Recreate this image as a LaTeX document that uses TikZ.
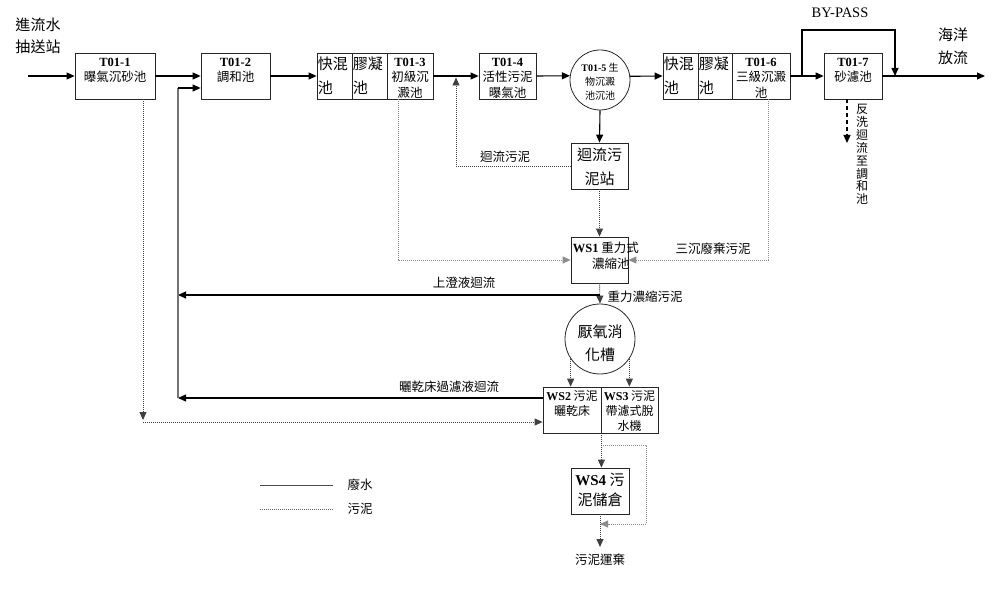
\documentclass[tikz,border=0pt]{standalone}
\usepackage{fontspec}
\setmainfont{Noto Sans CJK TC}
\newfontfamily\tm{Liberation Serif}
\usetikzlibrary{arrows.meta}
\newcommand\tb[1]{{\tm\bfseries #1}}
\begin{document}
\begin{tikzpicture}[x=1pt,y=-1pt,
  box/.style={draw=black!85, line width=0.8pt, inner sep=0pt, minimum height=46pt},
  circ/.style={draw=black!85, circle, line width=0.8pt, inner sep=0pt},
  bt/.style={anchor=north, align=center, inner sep=0pt, font=\fontsize{12.5}{15.5}\selectfont},
  bigt/.style={anchor=north west, align=left, inner sep=0pt, font=\fontsize{15}{24}\selectfont},
  lab/.style={inner sep=0pt, font=\fontsize{12.5}{15}\selectfont},
  tip/.style={-{Triangle[length=8pt,width=7pt]}},
  wl/.style={line width=1.1pt, draw=black, tip},
  gl/.style={line width=1.1pt, draw=black!55},
  sl/.style={line width=0.9pt, draw=black!75, dash pattern=on 1pt off 1pt, tip},
  sll/.style={line width=0.9pt, draw=black!45, dash pattern=on 1pt off 1pt, tip},
  dl/.style={line width=1.2pt, draw=black, dash pattern=on 4pt off 3pt, tip}]
\useasboundingbox (0,0) rectangle (1000,593);

% ---------- main train ----------
\node[lab, align=center, font=\fontsize{15}{22}\selectfont] (inl) at (38,36) {進流水\\抽送站};
\coordinate (in0) at (28,76);

\node[box, minimum width=80pt] (t1) at (115,76) {};
\node[bt, yshift=-5pt] (t1t) at (t1.north) {\tb{T01-1}\\曝氣沉砂池};

\node[box, minimum width=69pt] (t2) at (235.5,76) {};
\node[bt, yshift=-5pt] (t2t) at (t2.north) {\tb{T01-2}\\調和池};

\node[box, minimum width=35pt] (t3a) at (334.5,76) {};
\node[box, minimum width=35pt] (t3b) at (369.5,76) {};
\node[box, minimum width=46pt] (t3c) at (410,76) {};
\node[bigt, xshift=1pt, yshift=-4pt] (t3at) at (t3a.north west) {快混\\池};
\node[bigt, xshift=1pt, yshift=-4pt] (t3bt) at (t3b.north west) {膠凝\\池};
\node[bt, yshift=-5pt] (t3ct) at (t3c.north) {\tb{T01-3}\\初級沉\\澱池};

\node[box, minimum width=57pt] (t4) at (507.5,76) {};
\node[bt, yshift=-5pt] (t4t) at (t4.north) {\tb{T01-4}\\活性污泥\\曝氣池};

\node[circ, minimum size=60pt] (t5) at (600,80) {};
\node[align=center, inner sep=0pt, font=\fontsize{10}{14}\selectfont] (t5t) at (600,82) {\tb{T01-5} 生\\物沉澱\\池沉池};

\node[box, minimum width=35pt] (t6a) at (680.5,76) {};
\node[box, minimum width=34pt] (t6b) at (715,76) {};
\node[box, minimum width=58pt] (t6c) at (761,76) {};
\node[bigt, xshift=1pt, yshift=-4pt] (t6at) at (t6a.north west) {快混\\池};
\node[bigt, xshift=1pt, yshift=-4pt] (t6bt) at (t6b.north west) {膠凝\\池};
\node[bt, yshift=-5pt] (t6ct) at (t6c.north) {\tb{T01-6}\\三級沉澱\\池};

\node[box, minimum width=58pt] (t7) at (853,76) {};
\node[bt, yshift=-5pt] (t7t) at (t7.north) {\tb{T01-7}\\砂濾池};

\node[lab, align=center, font=\fontsize{15}{23}\selectfont] (outl) at (953,46) {海洋\\放流};
\coordinate (out) at (985,76);
\node[inner sep=0pt, font=\tm\fontsize{14.5}{16}\selectfont] (bpl) at (840,13) {BY-PASS};
\coordinate (bpa) at (802,76);
\coordinate (bpb) at (895,76);

\draw[wl] (in0) -- (t1.west);
\draw[wl] (t1.east) -- (t2.west);
\draw[wl] (t2.east) -- (t3a.west);
\draw[wl] (t3c.east) -- (t4.west);
\draw[wl] (t4.east) -- (t5.172.3);
\draw[wl] (t5.7.7) -- (t6a.west);
\draw[wl] (t6c.east) -- (t7.west);
\draw[wl] (t7.east) -- (out);
\draw[wl] (bpa) -- ++(0,-46) -| (bpb);

% backwash
\coordinate (bw) at (847,143);
\draw[dl] (t7.south -| bw) -- (bw);
\node[lab, align=center, font=\fontsize{12}{12.9}\selectfont, anchor=north] (bwl) at (862,104) {反\\洗\\迴\\流\\至\\調\\和\\池};

% ---------- sludge side ----------
\node[box, minimum width=57pt] (rs) at (599.5,166) {};
\node[lab, align=center, font=\fontsize{15}{24}\selectfont] (rst) at (599.5,167) {迴流污\\泥站};

\node[box, minimum width=57pt] (ws1) at (599.5,260) {};
\node[bt, anchor=north west, xshift=2pt, yshift=-5pt, font=\fontsize{12.5}{16}\selectfont] (ws1t) at (ws1.north west) {\tb{WS1} 重力式\\\hspace{10pt}濃縮池};

\node[circ, minimum size=70pt] (ad) at (600,339) {};
\node[lab, align=center, font=\fontsize{15}{23}\selectfont] (adt) at (600,343) {厭氧消\\化槽};

\node[box, minimum width=58pt] (ws2) at (572,410) {};
\node[box, minimum width=57pt] (ws3) at (629.5,410) {};
\node[bt, yshift=-4pt, font=\fontsize{12}{15}\selectfont] (ws2t) at (ws2.north) {\tb{WS2} 污泥\\曬乾床};
\node[bt, yshift=-4pt, font=\fontsize{12}{15}\selectfont] (ws3t) at (ws3.north) {\tb{WS3} 污泥\\帶濾式脫\\水機};

\node[box, minimum width=58pt] (ws4) at (600,491) {};
\node[lab, align=center, font=\fontsize{15}{20}\selectfont] (ws4t) at (600,490) {\tb{WS4} 污\\泥儲倉};

\draw[wl] (t5.south) -- (rs.north);
\draw[sl] (rs.south) -- (ws1.north);

\coordinate (r4) at (456,77.5);
\draw[sl] (rs.west) -- (rs.west -| r4) -- (r4);
\node[lab] (r4l) at (505,157) {迴流污泥};

\coordinate (d3) at (398,260);
\draw[sll] (t3c.south -| d3) -- (d3) -- (ws1.west);
\coordinate (d6) at (768,260);
\draw[sll] (t6c.south -| d6) -- (d6) -- (ws1.east);
\node[lab] (d6l) at (713,249) {三沉廢棄污泥};

\draw[sl] (ws1.south) -- (ad.north);
\node[lab] (adl) at (645,297) {重力濃縮污泥};

% returns to T01-2
\coordinate (c295) at (178,295);
\coordinate (c398) at (178,398);
\coordinate (rl) at (178,88);
\draw[wl] (ws1.south |- c295) -- (c295);
\node[lab] (c295l) at (464,283) {上澄液迴流};
\draw[wl] (ws2.west |- c398) -- (c398);
\node[lab] (c398l) at (449,387) {曬乾床過濾液迴流};
\draw[gl] (c398) -- (rl);
\draw[wl] (rl) -- (rl -| t2.west);

% from T01-1 grit
\coordinate (d1) at (143,420);
\coordinate (d2) at (143,422);
\draw[sl] (t1.south -| d1) -- (d1);
\draw[sl] (d2) -- (d2 -| ws2.west);

\draw[sl] (ad.214) -- (ad.214 |- ws2.north);
\draw[sl] (ad.326) -- (ad.326 |- ws3.north);

\draw[sl] (ws2.south east) -- (ws2.south east |- ws4.north);
\coordinate (l1) at (603,445);
\coordinate (l2) at (646,524);
\draw[sll] (l1) -- (l1 -| l2) -- (l2) -- (l2 -| ws4.south);
\coordinate (e4) at (600,547);
\draw[sl] (ws4.south) -- (e4);
\node[lab] (e4l) at (600,560) {污泥運棄};

% legend
\draw[line width=0.9pt, black!70] (260,485) -- (333,485);
\draw[line width=0.9pt, black!60, dash pattern=on 1pt off 1pt] (260,509) -- (333,509);
\node[lab] (lg1) at (360,485) {廢水};
\node[lab] (lg2) at (360,509) {污泥};
\end{tikzpicture}
\end{document}
